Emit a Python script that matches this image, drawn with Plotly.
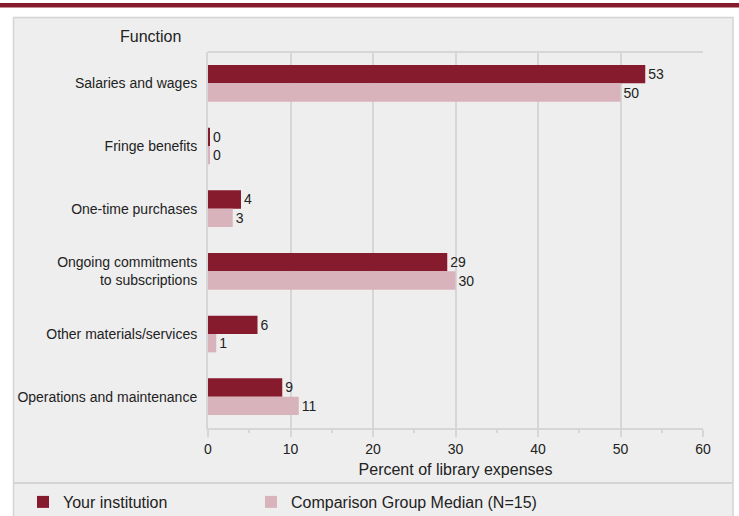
import plotly.graph_objects as go

categories = ["Salaries and wages", "Fringe benefits", "One-time purchases",
              "Ongoing commitments<br>to subscriptions", "Other materials/services",
              "Operations and maintenance"]
your_institution = [53, 0.2, 4, 29, 6, 9]
comparison_median = [50, 0.2, 3, 30, 1, 11]
x_ticks = [0, 10, 20, 30, 40, 50, 60]

DARK = "#861B2D"
PINK = "#D8B3BB"
BG = "#EEEEEE"
LINE = "#D6D6D6"
FONT = "Liberation Sans, Arial, sans-serif"

L, R, T, B = 208, 703, 52, 428
W, H = 739, 516

def px(x):
    return (x - L) / (R - L)

def py(y):
    return (B - y) / (B - T)

fig = go.Figure()
fig.add_trace(go.Bar(
    y=categories, x=your_institution, orientation="h", name="Your institution",
    marker=dict(color=DARK, line=dict(width=0)), legend="legend",
    texttemplate="%{x:.0f}", textposition="outside", cliponaxis=False,
    textfont=dict(size=14, color="#222222", family=FONT)))
fig.add_trace(go.Bar(
    y=categories, x=comparison_median, orientation="h", name="Comparison Group Median (N=15)",
    marker=dict(color=PINK, line=dict(width=0)), legend="legend2",
    texttemplate="%{x:.0f}", textposition="outside", cliponaxis=False,
    textfont=dict(size=14, color="#222222", family=FONT)))

shapes = [
    dict(type="rect", xref="paper", yref="paper", x0=px(0), x1=px(W), y0=py(7.5), y1=py(3),
         fillcolor=DARK, line=dict(width=0), layer="below"),
    dict(type="rect", xref="paper", yref="paper", x0=px(13.5), x1=px(733), y0=py(530), y1=py(17.5),
         fillcolor=BG, line=dict(color="#D4D4D4", width=1.5), layer="below"),
    dict(type="line", xref="paper", yref="paper", x0=px(13.5), x1=px(733), y0=py(483), y1=py(483),
         line=dict(color="#D4D4D4", width=2), layer="below"),
    dict(type="line", xref="paper", yref="paper", x0=0, x1=1, y0=1, y1=1,
         line=dict(color=LINE, width=2), layer="below"),
]

leg_common = dict(orientation="h", yanchor="top", xanchor="left", bgcolor="rgba(0,0,0,0)",
                  font=dict(size=16, family=FONT, color="#222222"))

fig.update_layout(
    width=W, height=H,
    margin=dict(l=L, r=W - R, t=T, b=H - B, autoexpand=False),
    paper_bgcolor="white", plot_bgcolor=BG,
    font=dict(family=FONT, size=14, color="#222222"),
    barmode="group", bargap=0.414, bargroupgap=0,
    shapes=shapes,
    showlegend=True,
    legend=dict(x=px(23), y=py(485), **leg_common),
    legend2=dict(x=px(251), y=py(485), **leg_common),
    annotations=[dict(text="Function", xref="paper", yref="paper", x=px(150), y=py(37),
                      xanchor="center", yanchor="middle",
                      showarrow=False, font=dict(size=16, family=FONT, color="#222222"))],
)
fig.update_xaxes(range=[0, 60], tickvals=x_ticks, ticktext=[str(v) for v in x_ticks],
                 showgrid=True, gridcolor=LINE, gridwidth=2, zeroline=False,
                 showline=True, linecolor=LINE, linewidth=2, mirror=False,
                 ticks="outside", ticklen=7, tickwidth=2, tickcolor=LINE,
                 minor=dict(ticks="outside", ticklen=3, tickwidth=2, tickcolor=LINE, dtick=5, tick0=0, showgrid=False),
                 tickfont=dict(size=14), automargin=False,
                 title=dict(text="Percent of library expenses", font=dict(size=16), standoff=8))
fig.update_yaxes(autorange="reversed", showline=True, linecolor=LINE, linewidth=2, automargin=False,
                 ticks="", ticklabelstandoff=6, tickfont=dict(size=14))

fig.write_html("out.html", config={"displayModeBar": False},
               post_script="document.body.style.margin='0';")
